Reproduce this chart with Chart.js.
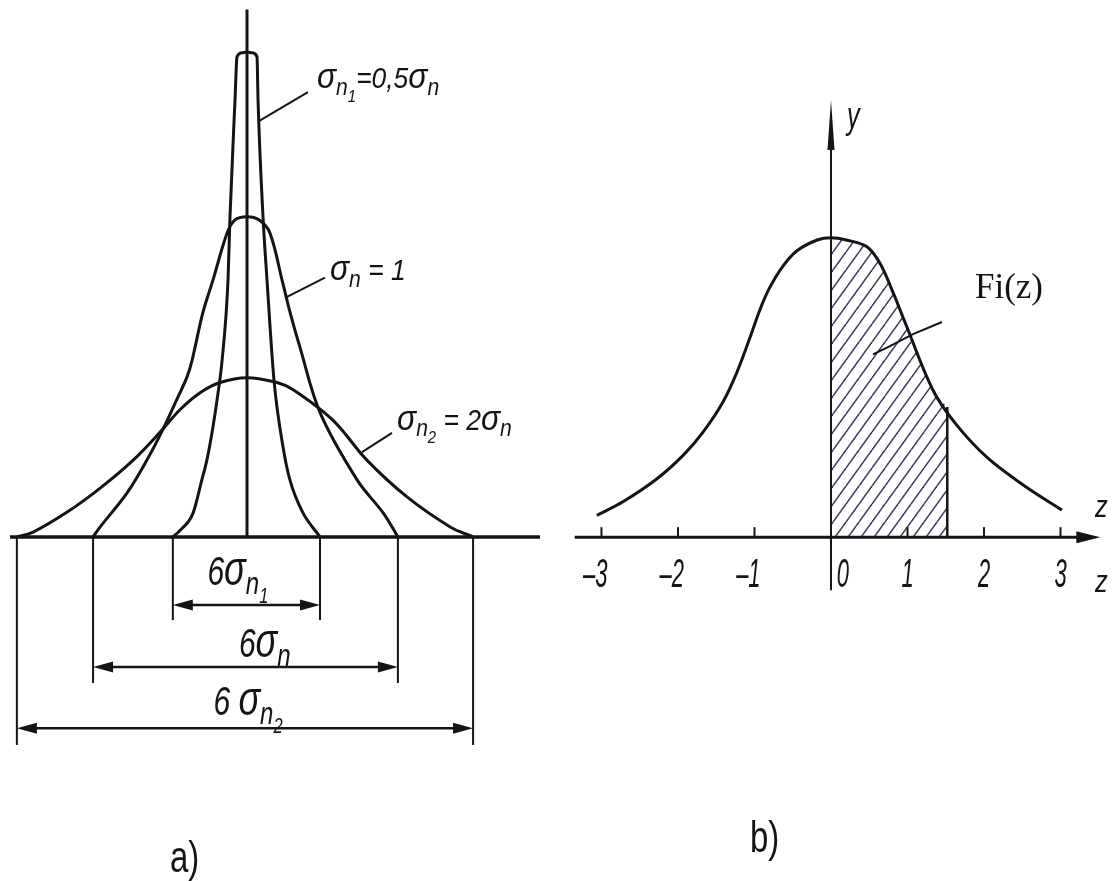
<!DOCTYPE html>
<html>
<head>
<meta charset="utf-8">
<script src="https://cdn.jsdelivr.net/npm/chart.js@4.4.1/dist/chart.umd.min.js"></script>
<style>
  html, body { margin: 0; padding: 0; background: #fff; }
  #wrap { position: relative; width: 1113px; height: 881px; overflow: hidden; background: #fff; }
  #chartA { position: absolute; left: 0; top: 0; }
  #chartB { position: absolute; left: 560px; top: 0; }
</style>
</head>
<body>
<div id="wrap">
  <canvas id="chartA" width="560" height="881"></canvas>
  <canvas id="chartB" width="553" height="881"></canvas>
</div>
<script>
// a) three curves with different spread (x in units of σn)
const narrowX = [-1.46, -1.32, -1.06, -0.89, -0.79, -0.67, -0.57, -0.49, -0.374, -0.335, -0.236, -0.197, -0.1, 0, 0.1, 0.197, 0.217, 0.315, 0.394, 0.531, 0.709, 0.846, 1.102, 1.378, 1.437];
const narrowY = [0, 0.008, 0.03, 0.071, 0.096, 0.1375, 0.18, 0.221, 0.321, 0.4, 0.546, 0.6, 0.605, 0.606, 0.605, 0.6, 0.546, 0.4, 0.321, 0.196, 0.1125, 0.071, 0.03, 0.005, 0];

const sigmaX = [-3.03, -2.89, -2.36, -1.97, -1.65, -1.38, -1.18, -1.08, -0.87, -0.67, -0.39, -0.24, 0, 0.24, 0.45, 0.69, 0.85, 1.04, 1.44, 2.17, 2.68, 2.97];
const sigmaY = [0, 0.0125, 0.055, 0.096, 0.135, 0.172, 0.2, 0.221, 0.28, 0.321, 0.38, 0.396, 0.4, 0.396, 0.38, 0.321, 0.28, 0.2375, 0.155, 0.071, 0.03, 0];

const wideX = [-4.53, -4.21, -3.54, -2.89, -2.24, -1.71, -1.32, -0.93, -0.53, 0, 0.59, 0.91, 1.69, 2.36, 3.15, 4.0, 4.45];
const wideY = [0, 0.006, 0.031, 0.061, 0.096, 0.131, 0.159, 0.18, 0.193, 0.199, 0.193, 0.184, 0.146, 0.096, 0.05, 0.0125, 0];

const curveNames = ['σn₁=0,5σn', 'σn = 1', 'σn₂ = 2σn'];
const spreadNames = ['6σn₁', '6σn', '6 σn₂'];

// b) standard curve, shaded from 0 to shadeTo
const stdX = [-3.06, -2.72, -2.27, -1.93, -1.67, -1.41, -1.23, -1.06, -0.93, -0.81, -0.63, -0.44, -0.18, 0, 0.2, 0.47, 0.64, 0.8, 0.97, 1.33, 1.62, 2.04, 2.56, 3.02];
const stdY = [0.029, 0.047, 0.078, 0.109, 0.14, 0.18, 0.219, 0.265, 0.302, 0.33, 0.36, 0.381, 0.395, 0.398, 0.395, 0.386, 0.364, 0.328, 0.285, 0.196, 0.152, 0.106, 0.066, 0.036];
const shadeTo = 1.52;
const shadeTop = 0.173;
const zTicks = [-3, -2, -1, 0, 1, 2, 3];
const zTickLabels = ['–3', '–2', '–1', '0', '1', '2', '3'];

const pts = (xs, ys) => xs.map((x, i) => ({ x: x, y: ys[i] }));

const INK = '#141414';
const smooth = { borderColor: INK, borderWidth: 3, pointRadius: 0, fill: false, tension: 0.35 };
const steep = { borderColor: INK, borderWidth: 3, pointRadius: 0, fill: false, cubicInterpolationMode: 'monotone' };
const straight = { borderColor: INK, borderWidth: 3, pointRadius: 0, fill: false, tension: 0 };

function line(ctx, x1, y1, x2, y2) {
    ctx.beginPath();
    ctx.moveTo(x1, y1);
    ctx.lineTo(x2, y2);
    ctx.stroke();
}

// filled arrow head, tip at (x, y), pointing along (dx, dy)
function arrowHead(ctx, x, y, dx, dy, len, half) {
    const bx = x - dx * len, by = y - dy * len;
    ctx.beginPath();
    ctx.moveTo(x, y);
    ctx.lineTo(bx - dy * half, by + dx * half);
    ctx.lineTo(bx + dy * half, by - dx * half);
    ctx.closePath();
    ctx.fill();
}

// σ big, n and the index digits lowered as subscripts
function richParts(str) {
    return [...str].map((ch) => {
        if (ch === 'σ') return [ch, 1.2, 0];
        if (ch === 'n') return [ch, 0.8, 0.22];
        if (ch === '₁') return ['1', 0.55, 0.45];
        if (ch === '₂') return ['2', 0.55, 0.45];
        return [ch, 1, 0];
    });
}

function drawRich(ctx, str, x, y, opt) {
    const parts = richParts(str);
    const fam = opt.family || 'Liberation Sans';
    const style = opt.italic === false ? '' : 'italic ';
    const fontOf = (p) => style + Math.round(opt.size * p[1]) + 'px "' + fam + '"';
    let w = 0;
    parts.forEach((p) => { ctx.font = fontOf(p); w += ctx.measureText(p[0]).width; });
    let cx = opt.align === 'center' ? -w / 2 : 0;
    ctx.save();
    ctx.translate(x, y);
    ctx.scale(opt.sx || 1, 1);
    ctx.fillStyle = INK;
    ctx.textAlign = 'left';
    ctx.textBaseline = 'alphabetic';
    parts.forEach((p) => {
        ctx.font = fontOf(p);
        ctx.fillText(p[0], cx, p[2] * opt.size);
        cx += ctx.measureText(p[0]).width;
    });
    ctx.restore();
}

function plainText(ctx, str, x, y, font, sx) {
    ctx.save();
    ctx.translate(x, y);
    ctx.scale(sx, 1);
    ctx.font = font;
    ctx.fillStyle = INK;
    ctx.textAlign = 'left';
    ctx.textBaseline = 'alphabetic';
    ctx.fillText(str, 0, 0);
    ctx.restore();
}

// ---------- a) ----------
const spreadFrom = [narrowX[0], sigmaX[0], wideX[0]];
const spreadTo = [narrowX[narrowX.length - 1], sigmaX[sigmaX.length - 1], wideX[wideX.length - 1]];
const dimLevel = [-0.085, -0.1625, -0.239];
const extDepth = [-0.104, -0.1825, -0.26];
const spreadLabelAt = [[-0.18, -0.06], [0.35, -0.15], [0.02, -0.2225]];
const curveLabelAt = [[1.378, 0.561], [1.634, 0.321], [2.953, 0.134]];
const curveLeaders = [[0.217, 0.519, 1.2, 0.556], [0.787, 0.3, 1.535, 0.324], [2.264, 0.106, 2.854, 0.13]];

const spreadNotes = {
    id: 'spreadNotes',
    afterDatasetsDraw(chart) {
        const ctx = chart.ctx;
        const X = (v) => chart.scales.x.getPixelForValue(v);
        const Y = (v) => chart.scales.y.getPixelForValue(v);
        ctx.save();
        ctx.strokeStyle = INK;
        ctx.fillStyle = INK;

        // размерные линии 6σ
        spreadNames.forEach((name, i) => {
            const x1 = X(spreadFrom[i]), x2 = X(spreadTo[i]);
            const y0 = Y(0), yd = Y(dimLevel[i]), ye = Y(extDepth[i]);
            ctx.lineWidth = 2;
            line(ctx, x1, y0, x1, ye);
            line(ctx, x2, y0, x2, ye);
            ctx.lineWidth = 2.5;
            line(ctx, x1 + 10, yd, x2 - 10, yd);
            arrowHead(ctx, x1, yd, -1, 0, 20, 5.5);
            arrowHead(ctx, x2, yd, 1, 0, 20, 5.5);
            drawRich(ctx, name, X(spreadLabelAt[i][0]), Y(spreadLabelAt[i][1]), { size: 40, sx: 0.75, align: 'center' });
        });

        // подписи кривых с выносками
        ctx.lineWidth = 2;
        curveNames.forEach((name, i) => {
            const l = curveLeaders[i];
            line(ctx, X(l[0]), Y(l[1]), X(l[2]), Y(l[3]));
            drawRich(ctx, name, X(curveLabelAt[i][0]), Y(curveLabelAt[i][1]), { size: 30, sx: 0.88 });
        });

        plainText(ctx, 'a)', 170, 872, '44px "Liberation Sans"', 0.75);
        ctx.restore();
    }
};

new Chart(document.getElementById('chartA').getContext('2d'), {
    type: 'line',
    data: {
        datasets: [
            { ...steep, data: pts(narrowX, narrowY) },
            { ...smooth, data: pts(sigmaX, sigmaY) },
            { ...smooth, data: pts(wideX, wideY) },
            { ...straight, data: [{ x: 0, y: 0 }, { x: 0, y: 0.659 }] },
            { ...straight, borderWidth: 3.5, data: [{ x: -4.665, y: 0 }, { x: 5.768, y: 0 }] }
        ]
    },
    options: {
        responsive: false,
        animation: false,
        events: [],
        layout: { padding: 0 },
        plugins: { legend: { display: false }, tooltip: { enabled: false } },
        scales: {
            x: { type: 'linear', min: -4.862, max: 6.161, display: false },
            y: { type: 'linear', min: -0.43, max: 0.671, display: false }
        }
    },
    plugins: [spreadNotes]
});

// ---------- b) ----------
function hatchPattern(ctx) {
    const tile = document.createElement('canvas');
    tile.width = 13;
    tile.height = 18;
    const t = tile.getContext('2d');
    t.fillStyle = '#fff';
    t.fillRect(0, 0, 13, 18);
    t.strokeStyle = '#3a3a60';
    t.lineWidth = 1.5;
    [-1, 0, 1].forEach((k) => {
        t.beginPath();
        t.moveTo(13 * k, 18);
        t.lineTo(13 * k + 13, 0);
        t.stroke();
    });
    return ctx.createPattern(tile, 'repeat');
}

const shadePts = pts(stdX, stdY).filter((p) => p.x >= 0 && p.x < shadeTo);
shadePts.push({ x: shadeTo, y: shadeTop });

const axisNotes = {
    id: 'axisNotes',
    afterDatasetsDraw(chart) {
        const ctx = chart.ctx;
        const X = (v) => chart.scales.x.getPixelForValue(v);
        const Y = (v) => chart.scales.y.getPixelForValue(v);
        ctx.save();
        ctx.strokeStyle = INK;
        ctx.fillStyle = INK;

        // ось z
        ctx.lineWidth = 3;
        line(ctx, X(-3.35), Y(0), X(3.52) - 12, Y(0));
        arrowHead(ctx, X(3.52), Y(0), 1, 0, 24, 6);
        // ось y
        ctx.lineWidth = 2;
        line(ctx, X(0), Y(-0.0705), X(0), Y(0.581) + 20);
        arrowHead(ctx, X(0), Y(0.581), 0, -1, 50, 3.5);

        // деления и подписи
        ctx.lineWidth = 2;
        zTicks.forEach((v, i) => {
            const px = X(v);
            if (v !== 0) line(ctx, px, Y(0), px, Y(0) - 10);
            const lab = zTickLabels[i];
            ctx.font = 'italic 40px "Liberation Sans"';
            const digit = ctx.measureText(lab.slice(-1)).width;
            const full = ctx.measureText(lab).width;
            const sx = 0.55;
            const shift = v === 0 ? 12 : 0;
            plainText(ctx, lab, px + shift - (full - digit / 2) * sx, Y(-0.0665), 'italic 40px "Liberation Sans"', sx);
        });

        plainText(ctx, 'y', X(0.209), Y(0.544), 'italic 36px "Liberation Sans"', 0.7);
        plainText(ctx, 'z', X(3.45), Y(0.0266), 'italic 32px "Liberation Sans"', 0.8);
        plainText(ctx, 'z', X(3.45), Y(-0.073), 'italic 32px "Liberation Sans"', 0.8);

        // Fi(z) с выноской
        const lead = [[1.451, 0.286], [1.072, 0.27], [0.771, 0.254], [0.549, 0.243]];
        ctx.lineWidth = 2;
        ctx.beginPath();
        lead.forEach((p, i) => (i ? ctx.lineTo(X(p[0]), Y(p[1])) : ctx.moveTo(X(p[0]), Y(p[1]))));
        ctx.stroke();
        plainText(ctx, 'Fi(z)', X(1.882), Y(0.318), '35px "Liberation Serif"', 1);

        plainText(ctx, 'b)', 190, 852, '44px "Liberation Sans"', 0.75);
        ctx.restore();
    }
};

const ctxB = document.getElementById('chartB').getContext('2d');
new Chart(ctxB, {
    type: 'line',
    data: {
        datasets: [
            { ...smooth, data: pts(stdX, stdY) },
            { ...straight, borderWidth: 2.5, data: [{ x: shadeTo, y: 0 }, { x: shadeTo, y: shadeTop }] },
            { ...smooth, borderWidth: 0, fill: 'origin', backgroundColor: hatchPattern(ctxB), data: shadePts }
        ]
    },
    options: {
        responsive: false,
        animation: false,
        events: [],
        layout: { padding: 0 },
        plugins: { legend: { display: false }, tooltip: { enabled: false } },
        scales: {
            x: { type: 'linear', min: -3.542, max: 3.686, display: false },
            y: { type: 'linear', min: -0.457, max: 0.714, display: false }
        }
    },
    plugins: [axisNotes]
});
</script>
</body>
</html>
